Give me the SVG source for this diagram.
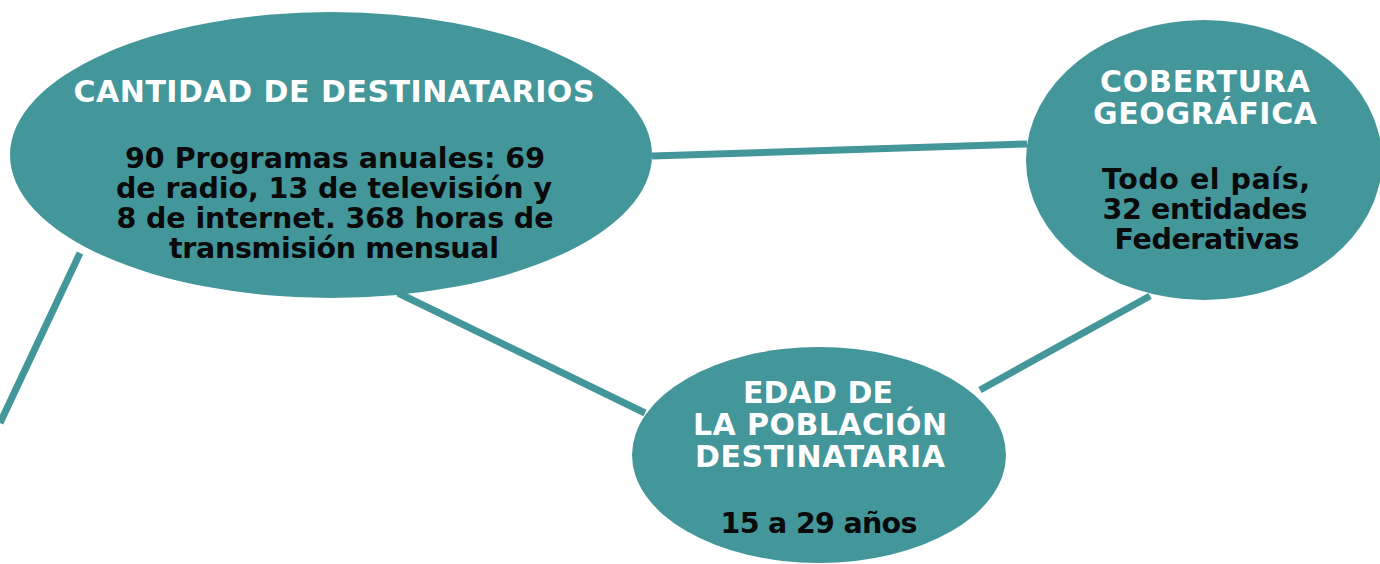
<svg xmlns="http://www.w3.org/2000/svg" width="1380" height="564" viewBox="0 0 1380 564">
<style>
.node{fill:#43969A}
.conn{stroke:#43969A;stroke-width:7;fill:none;stroke-linecap:butt}
.t{font-family:"DejaVu Sans","Liberation Sans",Arial,sans-serif;font-weight:700;text-anchor:middle}
.h{fill:#ffffff;font-size:30px}
.b{fill:#0a0a0a;font-size:28.5px}
</style>
<rect width="1380" height="564" fill="#ffffff"/>
<g id="connectors">
<line class="conn" x1="652" y1="156" x2="1027" y2="144"/>
<line class="conn" x1="398" y1="293" x2="645" y2="413"/>
<line class="conn" x1="980" y1="390" x2="1150" y2="296"/>
<line class="conn" x1="80" y1="253" x2="0" y2="423"/>
</g>
<g id="node-cantidad">
<ellipse class="node" cx="331" cy="155" rx="321" ry="143"/>
<text class="t h" x="334" y="102" textLength="521">CANTIDAD DE DESTINATARIOS</text>
<text class="t b" x="335" y="168" textLength="420">90 Programas anuales: 69</text>
<text class="t b" x="334" y="198" textLength="436">de radio, 13 de televisión y</text>
<text class="t b" x="335" y="228" textLength="437">8 de internet. 368 horas de</text>
<text class="t b" x="334" y="258" textLength="330">transmisión mensual</text>
</g>
<g id="node-cobertura">
<ellipse class="node" cx="1204" cy="160" rx="178" ry="140"/>
<text class="t h" x="1205" y="92" textLength="210">COBERTURA</text>
<text class="t h" x="1205" y="124" textLength="224">GEOGRÁFICA</text>
<text class="t b" x="1206" y="189" textLength="208">Todo el país,</text>
<text class="t b" x="1205" y="219" textLength="205">32 entidades</text>
<text class="t b" x="1207" y="249" textLength="185">Federativas</text>
</g>
<g id="node-edad">
<ellipse class="node" cx="819" cy="455" rx="187" ry="108"/>
<text class="t h" x="818" y="403" textLength="150">EDAD DE</text>
<text class="t h" x="820" y="435" textLength="254">LA POBLACIÓN</text>
<text class="t h" x="820" y="467" textLength="250">DESTINATARIA</text>
<text class="t b" x="819" y="533" textLength="197">15 a 29 años</text>
</g>
</svg>
